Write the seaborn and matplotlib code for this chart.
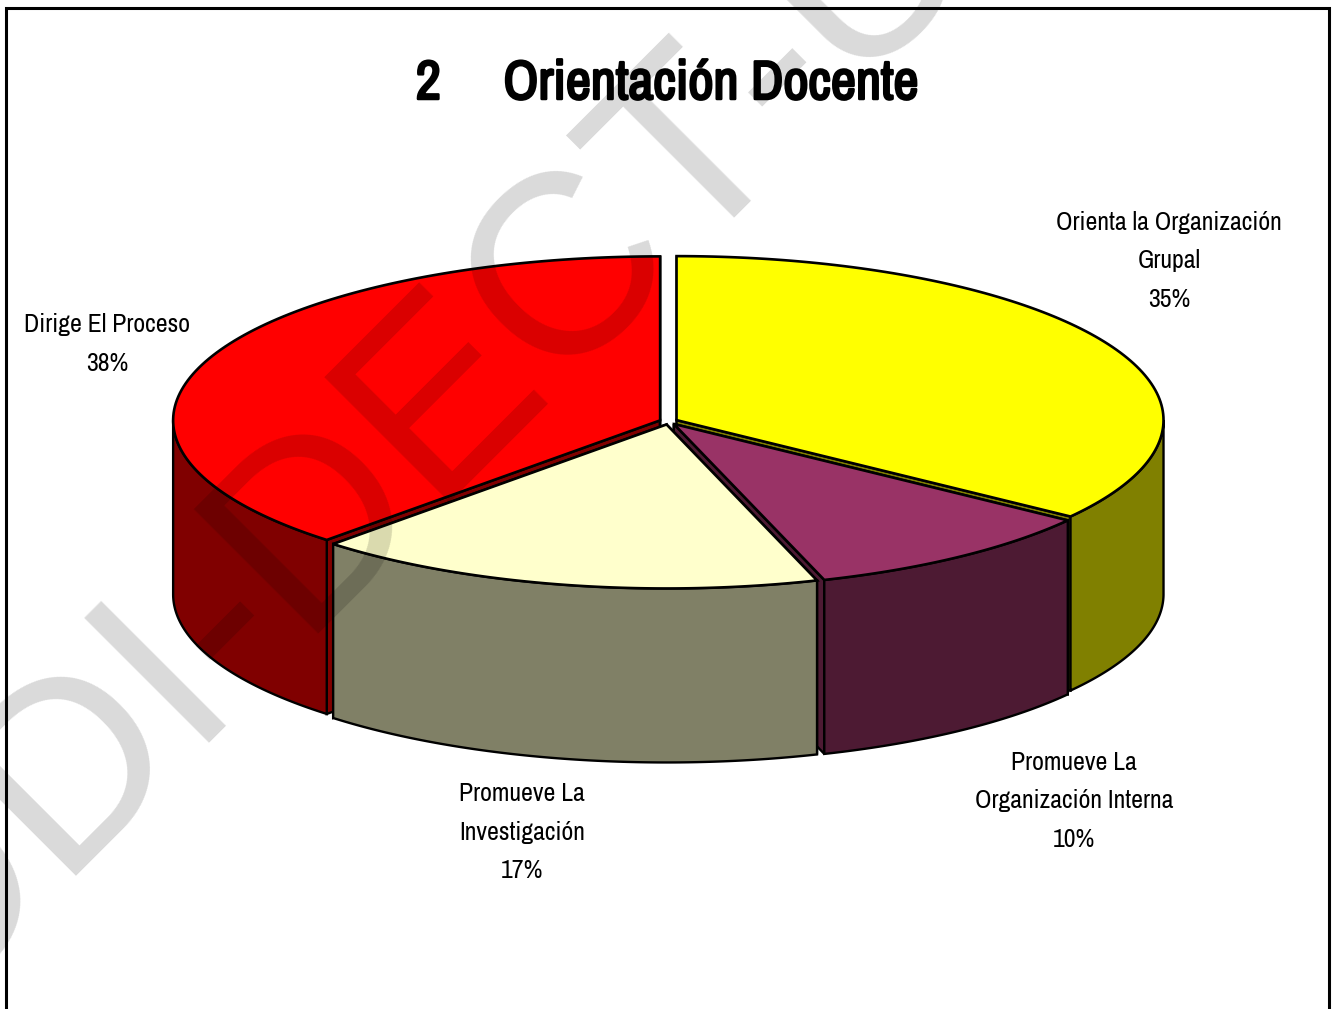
# 3D style pie, seaborn has no pie so wedges are built by hand on a themed axes
import numpy as np
import pandas as pd
import seaborn as sns
import matplotlib.pyplot as plt
import matplotlib.patheffects as pe
from matplotlib.patches import Polygon, Rectangle

CATEGORIES = ['Orienta la Organización\nGrupal', 'Promueve La\nOrganización Interna',
              'Promueve La\nInvestigación', 'Dirige El Proceso']
VALUES = [35, 10, 17, 38]
TOP_COLORS = ['#FFFF00', '#993366', '#FFFFCC', '#FF0000']
TITLE = '2     Orientación Docente'
WATERMARK = ['ODI-DECT', '-U']

# pie geometry, in pixels
CX, CY = 668.5, 421.5
RX, RY = 487, 164
DEPTH = 174
EXPLODE = 9

sns.set_theme(style='white')
plt.rcParams['font.family'] = ['Archivo Narrow', 'Liberation Sans', 'DejaVu Sans']

df = pd.DataFrame({'label': CATEGORIES, 'value': VALUES, 'color': TOP_COLORS})
df['side'] = [tuple(c * 0.5 for c in col) for col in sns.color_palette(TOP_COLORS)]
df['end'] = df['value'].cumsum() / df['value'].sum() * 2 * np.pi
df['start'] = df['end'].shift(fill_value=0)
df['mid'] = (df['start'] + df['end']) / 2
df['ox'] = CX + EXPLODE * np.sin(df['mid'])
df['oy'] = CY - EXPLODE * np.cos(df['mid']) * RY / RX

fig = plt.figure(figsize=(13.37, 10.09), dpi=100)
ax = fig.add_axes([0, 0, 1, 1])
ax.set_xlim(0, 1337)
ax.set_ylim(1009, 0)
ax.axis('off')

ax.add_patch(Rectangle((6, 8), 1323, 1100, fc='white', ec='black', lw=2.2, zorder=0))


def rim(row, t0, t1, n=120):
    t = np.linspace(t0, t1, n)
    return np.column_stack([row.ox + RX * np.sin(t), row.oy - RY * np.cos(t)])


def drop(pts):
    return pts + np.array([0, DEPTH])


# back slices first so the front ones cover them
order = [3, 0, 1, 2]
for z, i in enumerate(order):
    row = df.iloc[i]
    apex = np.array([[row.ox, row.oy]])
    arc = rim(row, row.start, row.end)
    base = 2 + z * 2
    # cut faces
    for edge in (arc[:1], arc[-1:]):
        face = np.vstack([apex, edge, drop(edge), drop(apex)])
        ax.add_patch(Polygon(face, fc=row.side, ec='black', lw=1.7, zorder=base))
    # outer wall, only the part facing the viewer
    t0, t1 = max(row.start, np.pi / 2), min(row.end, 3 * np.pi / 2)
    if t1 > t0:
        wall = rim(row, t0, t1)
        ax.add_patch(Polygon(np.vstack([wall, drop(wall)[::-1]]), fc=row.side, ec='black', lw=1.7, zorder=base))
    ax.add_patch(Polygon(np.vstack([apex, arc]), fc=row.color, ec='black', lw=1.9, zorder=base + 1))

# labels
label_pos = [(1169, 261), (1074, 801), (522, 832), (107, 344)]
for (x, y), name, val in zip(label_pos, df['label'], df['value']):
    ax.text(x, y, f'{name}\n{val}%', ha='center', va='center', fontsize=18.6,
            linespacing=1.83, color='black', zorder=20)

# the narrow face has no bold cut here, a thin stroke thickens it
ax.text(667, 84, TITLE, ha='center', va='center', fontsize=39.5, color='black', zorder=20,
        path_effects=[pe.withStroke(linewidth=1.8, foreground='black')])

# watermark sits over the pie and darkens it, split so the kerning keeps the dash clear of the T
for (x, y), part in zip([(-83, 1023), (792, 148)], WATERMARK):
    ax.text(x, y, part, rotation=45, rotation_mode='anchor', ha='left', va='baseline',
            fontsize=185, family='Liberation Sans', color='black', alpha=0.15, zorder=30)

sns.despine(ax=ax, left=True, bottom=True)
fig.savefig('out.png', dpi=100)
